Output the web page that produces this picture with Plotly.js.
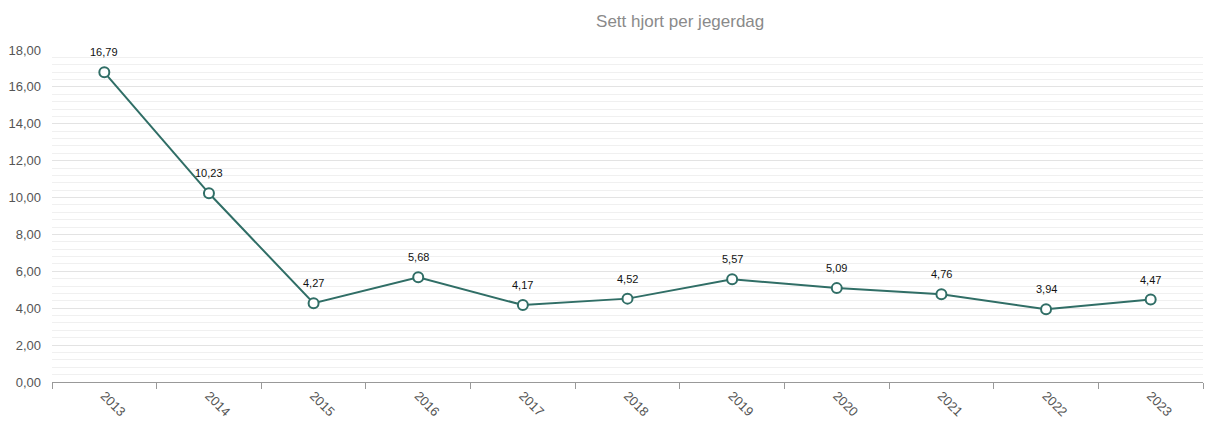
<!DOCTYPE html>
<html>
<head>
<meta charset="utf-8">
<script src="https://cdn.plot.ly/plotly-3.0.1.min.js"></script>
<style>html,body{margin:0;padding:0;background:#fff;}#chart{width:1206px;height:424px;}</style>
</head>
<body>
<div id="chart"></div>
<script>
var years = ["2013","2014","2015","2016","2017","2018","2019","2020","2021","2022","2023"];
var seenPerDay = [16.79, 10.23, 4.27, 5.68, 4.17, 4.52, 5.57, 5.09, 4.76, 3.94, 4.47];
var chartTitle = "Sett hjort per jegerdag";

var trace = {
  x: years,
  y: seenPerDay,
  type: "scatter",
  mode: "lines+markers",
  line: {color: "#306e66", width: 2},
  marker: {size: 10, color: "#ffffff", line: {color: "#306e66", width: 2}},
  cliponaxis: false,
  hoverinfo: "x+y"
};

var labels = years.map(function (yr, i) {
  return {
    x: i, y: seenPerDay[i], xref: "x", yref: "y",
    text: seenPerDay[i].toFixed(2).replace(".", ","),
    showarrow: false, yshift: 20,
    font: {family: "Liberation Sans, Arial, sans-serif", size: 11, color: "#111"}
  };
});

var layout = {
  width: 1206, height: 424,
  margin: {l: 52, r: 3, t: 50, b: 42},
  separators: ", ",
  paper_bgcolor: "#fff",
  plot_bgcolor: "#fff",
  showlegend: false,
  font: {family: "Liberation Sans, Arial, sans-serif", color: "#333"},
  title: {text: chartTitle, x: 0.564, xanchor: "center", y: 0.95, yanchor: "middle",
          font: {size: 17, color: "#8a8a8a", family: "Liberation Sans, Arial, sans-serif"}},
  annotations: labels,
  xaxis: {
    type: "category",
    range: [-0.5, 10.5],
    tickson: "boundaries",
    ticks: "outside", ticklen: 6, tickcolor: "#999",
    showline: true, linecolor: "#999", linewidth: 1,
    showgrid: false, zeroline: false,
    tickangle: 45,
    tickfont: {size: 13, color: "#555"}
  },
  yaxis: {
    range: [0, 18],
    dtick: 2,
    tickformat: ".2f",
    showgrid: true, gridcolor: "#e3e3e3", gridwidth: 1,
    minor: {dtick: 0.4, showgrid: true, gridcolor: "#f0f0f0", gridwidth: 1},
    zeroline: false,
    showline: false,
    ticks: "",
    ticklabelstandoff: 10,
    tickfont: {size: 13, color: "#555"}
  }
};

Plotly.newPlot("chart", [trace], layout, {displayModeBar: false, staticPlot: true});
</script>
</body>
</html>
